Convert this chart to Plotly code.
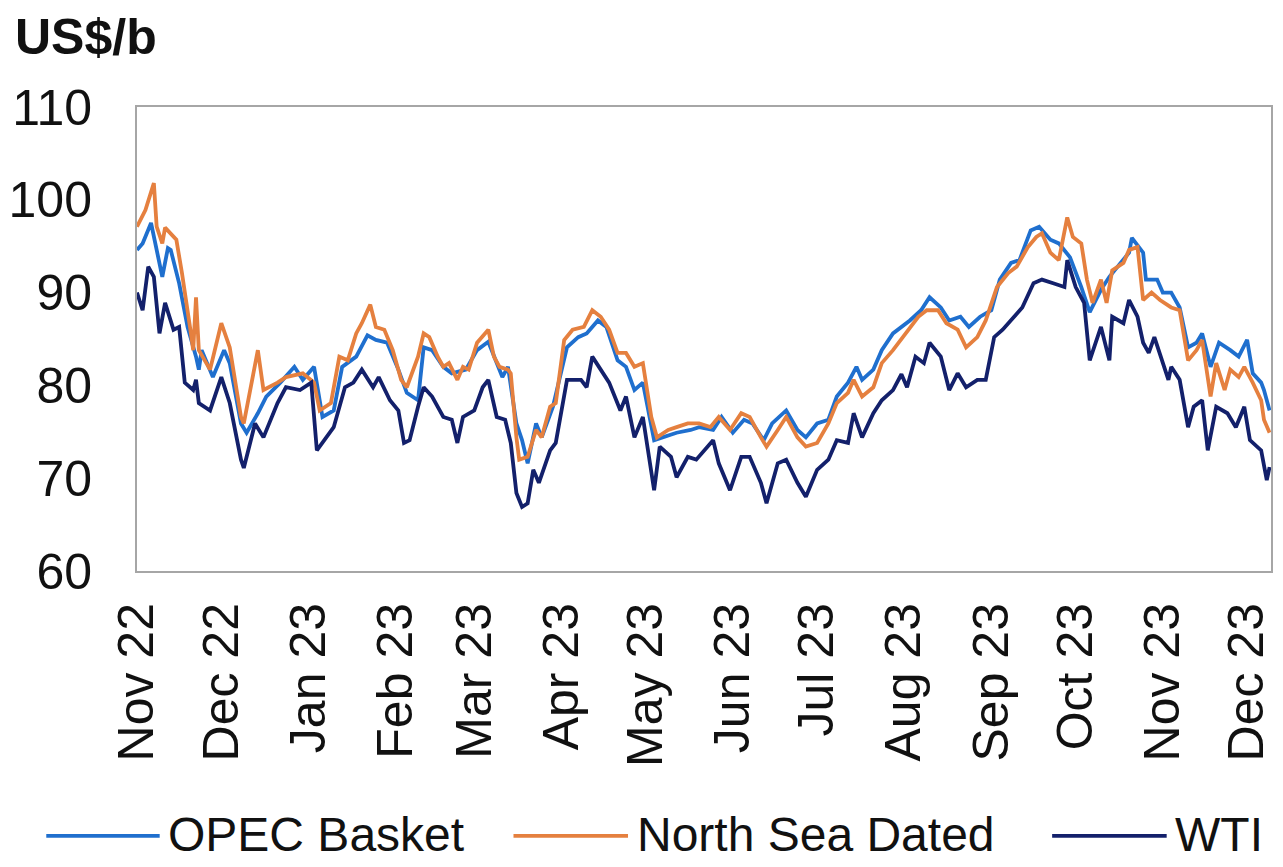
import plotly.graph_objects as go

# ---------------- data ----------------
opec_dates = [
    "2022-11-01","2022-11-03","2022-11-06","2022-11-08","2022-11-10","2022-11-12","2022-11-13","2022-11-16","2022-11-19","2022-11-22","2022-11-23","2022-11-24","2022-11-28",
    "2022-12-02","2022-12-04","2022-12-08","2022-12-10","2022-12-14","2022-12-17","2022-12-22","2022-12-27","2022-12-30",
    "2023-01-03","2023-01-06","2023-01-10","2023-01-13","2023-01-18","2023-01-22","2023-01-25","2023-01-29",
    "2023-02-02","2023-02-05","2023-02-09","2023-02-11","2023-02-14","2023-02-18","2023-02-21","2023-02-26",
    "2023-03-02","2023-03-06","2023-03-09","2023-03-11","2023-03-13","2023-03-16","2023-03-18","2023-03-20","2023-03-23","2023-03-25","2023-03-29",
    "2023-04-03","2023-04-07","2023-04-10","2023-04-14","2023-04-17","2023-04-21","2023-04-24","2023-04-27","2023-04-30",
    "2023-05-04","2023-05-07","2023-05-12","2023-05-17","2023-05-20","2023-05-25","2023-05-28",
    "2023-06-01","2023-06-05","2023-06-08","2023-06-12","2023-06-15","2023-06-20","2023-06-24","2023-06-27",
    "2023-07-01","2023-07-05","2023-07-08","2023-07-12","2023-07-15","2023-07-17","2023-07-21","2023-07-24","2023-07-28","2023-07-31",
    "2023-08-03","2023-08-07","2023-08-10","2023-08-14","2023-08-17","2023-08-21","2023-08-24","2023-08-28",
    "2023-09-01","2023-09-04","2023-09-08","2023-09-11","2023-09-15","2023-09-18","2023-09-22","2023-09-25","2023-09-29",
    "2023-10-03","2023-10-06","2023-10-10","2023-10-13","2023-10-17","2023-10-20","2023-10-21","2023-10-25","2023-10-26","2023-10-30",
    "2023-11-01","2023-11-04","2023-11-07","2023-11-10","2023-11-13","2023-11-15","2023-11-18","2023-11-21","2023-11-25","2023-11-28",
    "2023-12-01","2023-12-03","2023-12-06","2023-12-07","2023-12-09",
]
opec_values = [
    94.6, 95.3, 97.5, 94.6, 91.7, 94.8, 94.6, 91.0, 86.3, 83.1, 81.7, 83.8, 80.9,
    83.8, 82.4, 75.9, 74.9, 77.0, 78.8, 80.3, 82.0, 80.6,
    82.0, 76.6, 77.3, 82.0, 83.1, 85.4, 84.9, 84.6,
    81.7, 79.2, 78.4, 84.1, 83.8, 82.0, 81.3, 81.7,
    83.8, 84.7, 82.4, 80.9, 82.0, 75.9, 74.1, 71.6, 75.9, 74.4, 77.7,
    84.1, 85.2, 85.6, 87.0, 86.3, 82.7, 82.0, 79.5, 80.3,
    74.1, 74.4, 74.9, 75.2, 75.5, 75.2, 76.6,
    74.9, 76.3, 75.9, 74.1, 75.9, 77.3, 75.2, 74.4,
    75.9, 76.3, 78.8, 80.3, 82.0, 80.6, 81.7, 83.8, 85.6, 86.3,
    87.0, 88.1, 89.5, 88.4, 87.0, 87.4, 86.3, 87.4,
    88.1, 91.4, 93.2, 93.5, 96.7, 97.1, 95.7, 95.3, 93.8,
    90.6, 87.9, 90.3, 91.7, 93.2, 94.3, 95.9, 94.3, 91.4, 91.4,
    90.0, 90.0, 88.4, 84.1, 84.6, 85.6, 82.0, 84.6, 83.8, 83.1,
    84.9, 81.3, 80.3, 79.5, 77.3,
]

nsd_dates = [
    "2022-11-01","2022-11-04","2022-11-07","2022-11-08","2022-11-10","2022-11-11","2022-11-15","2022-11-17","2022-11-20","2022-11-21","2022-11-22","2022-11-23","2022-11-27",
    "2022-12-01","2022-12-04","2022-12-08","2022-12-09","2022-12-14","2022-12-16","2022-12-21","2022-12-24","2022-12-30",
    "2023-01-03","2023-01-05","2023-01-09","2023-01-12","2023-01-15","2023-01-18","2023-01-20","2023-01-23","2023-01-25","2023-01-28","2023-01-31",
    "2023-02-03","2023-02-05","2023-02-09","2023-02-11","2023-02-13","2023-02-16","2023-02-18","2023-02-20","2023-02-23","2023-02-25","2023-02-27",
    "2023-03-02","2023-03-06","2023-03-08","2023-03-10","2023-03-13","2023-03-14","2023-03-16","2023-03-17","2023-03-20","2023-03-23","2023-03-25","2023-03-28","2023-03-30",
    "2023-04-02","2023-04-05","2023-04-09","2023-04-12","2023-04-15","2023-04-18","2023-04-21","2023-04-24","2023-04-27","2023-04-30",
    "2023-05-03","2023-05-05","2023-05-09","2023-05-12","2023-05-16","2023-05-20","2023-05-24","2023-05-27","2023-05-31",
    "2023-06-04","2023-06-07","2023-06-11","2023-06-13","2023-06-17","2023-06-20","2023-06-24","2023-06-27",
    "2023-07-01","2023-07-05","2023-07-08","2023-07-12","2023-07-14","2023-07-17","2023-07-21","2023-07-24","2023-07-28","2023-07-31",
    "2023-08-03","2023-08-06","2023-08-09","2023-08-13","2023-08-16","2023-08-20","2023-08-23","2023-08-27","2023-08-30",
    "2023-09-03","2023-09-07","2023-09-10","2023-09-14","2023-09-17","2023-09-19","2023-09-22","2023-09-25","2023-09-28","2023-09-30",
    "2023-10-03","2023-10-05","2023-10-07","2023-10-10","2023-10-12","2023-10-14","2023-10-18","2023-10-20","2023-10-23","2023-10-25","2023-10-28","2023-10-31",
    "2023-11-04","2023-11-07","2023-11-10","2023-11-13","2023-11-15","2023-11-18","2023-11-20","2023-11-23","2023-11-25","2023-11-28","2023-11-30",
    "2023-12-03","2023-12-06","2023-12-07","2023-12-09",
]
nsd_values = [
    97.1, 98.9, 101.8, 97.1, 95.3, 97.0, 95.7, 92.1, 86.0, 83.8, 89.5, 83.8, 81.7,
    86.7, 84.1, 76.6, 75.9, 83.8, 79.5, 80.3, 80.9, 81.3,
    80.3, 77.3, 78.1, 83.1, 82.7, 85.6, 86.7, 88.7, 86.3, 86.0, 83.8,
    80.6, 79.8, 83.1, 85.6, 85.2, 83.1, 82.0, 82.4, 80.6, 82.0, 81.7,
    84.6, 86.0, 83.1, 82.0, 81.7, 81.3, 74.4, 72.0, 72.3, 75.2, 74.4, 77.7, 78.1,
    84.9, 86.0, 86.3, 88.1, 87.4, 86.0, 83.5, 83.5, 82.0, 82.4,
    76.6, 74.4, 75.2, 75.5, 75.9, 75.9, 75.5, 76.6, 75.2,
    77.0, 76.6, 74.4, 73.4, 75.2, 76.6, 74.4, 73.4,
    73.8, 75.9, 78.1, 79.2, 80.6, 78.8, 79.8, 82.4, 83.8, 85.0,
    86.3, 87.4, 88.1, 88.1, 86.7, 86.0, 84.1, 85.2, 87.0,
    90.6, 92.1, 92.8, 94.9, 96.0, 96.4, 94.3, 93.5, 98.1, 96.0,
    95.3, 91.4, 88.9, 91.4, 88.9, 92.4, 93.2, 94.6, 94.9, 89.2, 90.0, 89.2,
    88.4, 88.1, 82.7, 83.8, 84.9, 78.8, 82.4, 79.5, 81.7, 80.9, 82.0,
    80.3, 78.4, 76.3, 74.9,
]

wti_dates = [
    "2022-11-01","2022-11-03","2022-11-05","2022-11-07","2022-11-09","2022-11-11","2022-11-14","2022-11-16","2022-11-18","2022-11-21","2022-11-22","2022-11-23","2022-11-27",
    "2022-12-01","2022-12-04","2022-12-08","2022-12-09","2022-12-13","2022-12-16","2022-12-21","2022-12-24","2022-12-29",
    "2023-01-02","2023-01-04","2023-01-10","2023-01-14","2023-01-17","2023-01-20","2023-01-24","2023-01-26","2023-01-30",
    "2023-02-02","2023-02-04","2023-02-06","2023-02-09","2023-02-11","2023-02-14","2023-02-18","2023-02-21","2023-02-23","2023-02-25",
    "2023-03-01","2023-03-04","2023-03-06","2023-03-09","2023-03-12","2023-03-14","2023-03-16","2023-03-18","2023-03-20","2023-03-22","2023-03-24","2023-03-28","2023-03-30",
    "2023-04-03","2023-04-08","2023-04-10","2023-04-12","2023-04-15","2023-04-18","2023-04-22","2023-04-24","2023-04-27","2023-04-30",
    "2023-05-04","2023-05-06","2023-05-10","2023-05-12","2023-05-16","2023-05-19","2023-05-25","2023-05-27","2023-05-31",
    "2023-06-04","2023-06-07","2023-06-11","2023-06-13","2023-06-17","2023-06-20","2023-06-24","2023-06-27",
    "2023-07-01","2023-07-05","2023-07-08","2023-07-12","2023-07-14","2023-07-17","2023-07-21","2023-07-24","2023-07-28","2023-07-31",
    "2023-08-02","2023-08-05","2023-08-08","2023-08-10","2023-08-14","2023-08-17","2023-08-20","2023-08-23","2023-08-27","2023-08-30",
    "2023-09-02","2023-09-05","2023-09-09","2023-09-12","2023-09-16","2023-09-19","2023-09-23","2023-09-27","2023-09-28",
    "2023-10-01","2023-10-04","2023-10-06","2023-10-10","2023-10-13","2023-10-14","2023-10-18","2023-10-20","2023-10-23","2023-10-25","2023-10-27","2023-10-29",
    "2023-11-01","2023-11-03","2023-11-04","2023-11-07","2023-11-10","2023-11-12","2023-11-15","2023-11-17","2023-11-20","2023-11-24","2023-11-27","2023-11-30",
    "2023-12-02","2023-12-06","2023-12-08","2023-12-09",
]
wti_values = [
    90.0, 88.1, 92.8, 91.7, 85.6, 88.9, 86.0, 86.3, 80.3, 79.5, 80.6, 78.1, 77.3,
    80.9, 78.1, 72.0, 71.1, 75.9, 74.4, 78.1, 79.8, 79.5,
    80.3, 73.0, 75.5, 79.8, 80.3, 81.7, 79.8, 80.9, 78.4,
    77.3, 73.8, 74.1, 77.7, 79.8, 78.8, 76.6, 76.3, 73.8, 76.6,
    77.3, 79.8, 80.6, 76.6, 76.3, 73.8, 68.4, 66.9, 67.3, 70.9, 69.5, 73.0, 73.8,
    80.6, 80.6, 79.8, 83.1, 81.7, 80.3, 77.3, 78.8, 74.4, 76.6,
    68.7, 73.4, 72.3, 70.1, 72.3, 72.0, 74.1, 71.6, 68.7,
    72.3, 72.3, 69.5, 67.3, 71.6, 72.0, 69.5, 68.0,
    70.9, 72.0, 74.1, 73.8, 77.0, 74.4, 77.0, 78.4, 79.5, 81.2,
    79.8, 83.1, 82.4, 84.6, 83.1, 79.5, 81.3, 79.8, 80.6, 80.6,
    85.2, 86.0, 87.4, 88.4, 91.0, 91.4, 91.0, 90.6, 93.5,
    90.6, 88.9, 82.7, 86.3, 82.7, 87.4, 86.7, 89.2, 87.4, 84.6, 83.5, 85.2,
    82.4, 80.6, 82.0, 80.6, 75.5, 77.7, 78.4, 73.0, 77.7, 77.0, 75.5, 77.7,
    74.1, 73.0, 69.8, 71.2,
]

month_ticks = ["2022-11-01","2022-12-01","2023-01-01","2023-02-01","2023-03-01","2023-04-01",
               "2023-05-01","2023-06-01","2023-07-01","2023-08-01","2023-09-01","2023-10-01",
               "2023-11-01","2023-12-01"]
month_labels = ["Nov 22","Dec 22","Jan 23","Feb 23","Mar 23","Apr 23","May 23","Jun 23",
                "Jul 23","Aug 23","Sep 23","Oct 23","Nov 23","Dec 23"]
y_ticks = [60, 70, 80, 90, 100, 110]

series_names = ["OPEC Basket", "North Sea Dated", "WTI"]
series_colors = ["#1f6fce", "#e5803f", "#13206b"]

# ---------------- styling ----------------
FONT = "Liberation Sans, Arial, sans-serif"
TXT = "#111111"
FS = 50
FS_LEG = 48
LW = 3.8

fig = go.Figure()
for name, color, xs, ys in zip(series_names, series_colors,
                               [opec_dates, nsd_dates, wti_dates],
                               [opec_values, nsd_values, wti_values]):
    fig.add_trace(go.Scatter(x=xs, y=ys, mode="lines", name=name, showlegend=False,
                             line=dict(color=color, width=LW)))

# legend drawn below the chart (long line samples as in the original)
legend_line_x = [(-0.080, 0.020), (0.332, 0.433), (0.807, 0.908)]
legend_line_y = -0.571
legend_text_y = -0.567
shapes = []
annotations = []
for (x0, x1), name, color in zip(legend_line_x, series_names, series_colors):
    shapes.append(dict(type="line", xref="paper", yref="paper", x0=x0, x1=x1,
                       y0=legend_line_y, y1=legend_line_y, line=dict(color=color, width=LW)))
    annotations.append(dict(text=name, xref="paper", yref="paper", x=x1 + 0.006,
                            y=legend_text_y, xanchor="left", yanchor="middle", showarrow=False,
                            font=dict(family=FONT, size=FS_LEG, color=TXT)))

annotations.append(dict(text="<b>US$/b</b>", xref="paper", yref="paper",
                        x=-0.109, y=1.151, xanchor="left", yanchor="middle", showarrow=False,
                        font=dict(family=FONT, size=FS, color=TXT)))

# the page keeps an 8px body margin; the figure is placed so the plot box lands where it should
fig.update_layout(
    width=1267, height=859,
    margin=dict(l=129, r=4, t=99, b=296, autoexpand=False),
    paper_bgcolor="white", plot_bgcolor="white",
    font=dict(family=FONT, size=FS, color=TXT),
    showlegend=False,
    shapes=shapes,
    annotations=annotations,
)

fig.update_xaxes(
    type="date", range=["2022-11-01", "2023-12-09 12:00"],
    tickmode="array", tickvals=month_ticks, ticktext=month_labels, tickangle=-90,
    showgrid=False, zeroline=False, ticks="", automargin=False,
    showline=True, mirror=True, linecolor="#a6a6a6", linewidth=2,
    tickfont=dict(family=FONT, size=FS, color=TXT),
    ticklabelstandoff=10,
)
fig.update_yaxes(
    range=[60, 110], tickmode="array", tickvals=y_ticks,
    showgrid=False, zeroline=False, ticks="", automargin=False,
    showline=True, mirror=True, linecolor="#a6a6a6", linewidth=2,
    tickfont=dict(family=FONT, size=FS, color=TXT),
    ticklabelstandoff=33,
)

fig.write_html("out.html")
